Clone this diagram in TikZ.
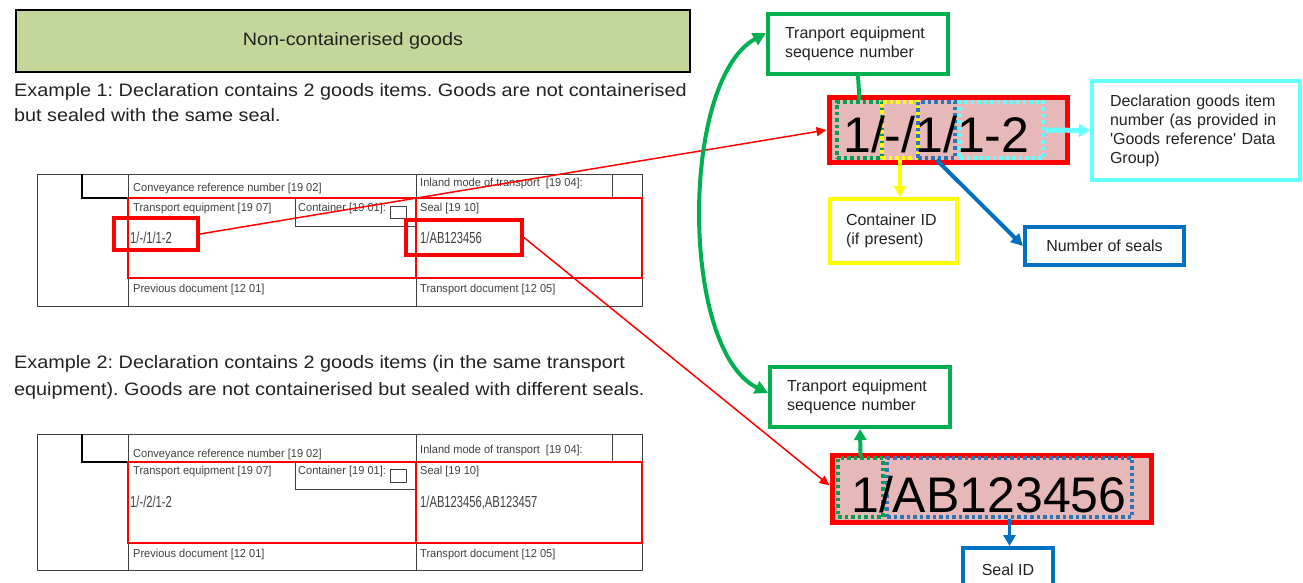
\documentclass[tikz,border=0pt]{standalone}
\usepackage{fontspec}
\setmainfont{Liberation Sans}
\newfontfamily\lblfont[FakeStretch=1.1]{Liberation Sans}
\newfontfamily\formfont[FakeStretch=0.96]{Liberation Sans}
\newfontfamily\valfont[FakeStretch=0.7]{Liberation Sans}
\usetikzlibrary{arrows.meta}
\definecolor{ogreen}{HTML}{00B050}
\definecolor{dgreen}{HTML}{00A050}
\definecolor{oblue}{HTML}{0070C0}
\definecolor{dblue}{HTML}{2E75B6}
\definecolor{ocyan}{HTML}{66FFFF}
\definecolor{oyellow}{HTML}{FFFF00}
\definecolor{pinkfill}{HTML}{E6B8B7}
\definecolor{titlefill}{HTML}{C4D79B}
\definecolor{formline}{HTML}{404040}
\definecolor{txt}{HTML}{222222}
\frenchspacing
\tikzset{
  lbl/.style={inner sep=0pt, text=txt, font=\lblfont\fontsize{18}{20}\selectfont},
  flbl/.style={inner sep=0pt, text=formline, font=\formfont\fontsize{11.5}{13}\selectfont},
  fval/.style={inner sep=0pt, text=formline, font=\valfont\fontsize{16}{18}\selectfont},
  fthin/.style={draw=formline, line width=0.8pt},
  fthick/.style={draw=black, line width=2.5pt},
  redthin/.style={draw=red, line width=2pt},
  redthick/.style={draw=red, line width=4pt, inner sep=0pt},
  callout/.style={fill=white, align=left, text=txt, font=\fontsize{16}{19}\selectfont},
  gbox/.style={callout, draw=ogreen, line width=4pt, inner xsep=17pt, text width=146pt, minimum height=60pt},
  bigbox/.style={draw=red, line width=5pt, fill=pinkfill, inner sep=0pt},
  bigtxt/.style={inner sep=0pt, font=\fontsize{50}{50}\selectfont},
  dotbox/.style={line width=3.5pt, dash pattern=on 3.5pt off 3pt, inner sep=0pt},
  redarrow/.style={draw=red, line width=1.5pt, -{Triangle[length=10pt,width=9pt]}},
}
\begin{document}
\begin{tikzpicture}[x=1pt,y=-1pt]
\useasboundingbox (0,0) rectangle (1303,583);

% ---------- left: title and texts ----------
\node[draw=black, line width=2pt, fill=titlefill, minimum width=674pt, minimum height=62pt,
      font=\lblfont\fontsize{18}{20}\selectfont, text=txt] (title) at (353,41) {Non-containerised goods};
\node[lbl, anchor=base west] (ex1a) at (14,97) {Example 1: Declaration contains 2 goods items. Goods are not containerised};
\node[lbl, anchor=base west] (ex1b) at (14,122) {but sealed with the same seal.};
\node[lbl, anchor=base west] (ex2a) at (14,368) {Example 2: Declaration contains 2 goods items (in the same transport};
\node[lbl, anchor=base west] (ex2b) at (14,395) {equipment). Goods are not containerised but sealed with different seals.};

% ---------- form 1 ----------
\draw[fthin] (37,174) rectangle (642,306);
\draw[fthin] (128,174) -- (128,306);
\draw[fthin] (416,174) -- (416,306);
\draw[fthin] (612,174) -- (612,198);
\draw[fthin] (295,198) -- (295,226) -- (416,226);
\draw[fthin] (390,206) rectangle (406,218);
\draw[fthick] (82,174) -- (82,198) -- (128,198);
\draw[redthin] (128,198) rectangle (642,278);
\draw[redthin] (416,198) -- (416,278);
\node[flbl, anchor=base west] (c1) at (133,191) {Conveyance reference number [19 02]};
\node[flbl, anchor=base west] (i1) at (420,186) {Inland mode of transport\ \ [19 04]:};
\node[flbl, anchor=base west] (te1) at (133,211) {Transport equipment [19 07]};
\node[flbl, anchor=base west] (co1) at (298,211) {Container [19 01]:};
\node[flbl, anchor=base west] (s1) at (420,211) {Seal [19 10]};
\node[fval, anchor=base west] (v1) at (130,243) {1/-/1/1-2};
\node[fval, anchor=base west] (w1) at (420,243) {1/AB123456};
\node[flbl, anchor=base west] (p1) at (133,292) {Previous document [12 01]};
\node[flbl, anchor=base west] (d1) at (420,292) {Transport document [12 05]};
\node[redthick, draw, minimum width=84pt, minimum height=32pt] (fv1) at (156,234) {};
\node[redthick, draw, minimum width=116pt, minimum height=35pt] (sv1) at (464,237.5) {};

% ---------- form 2 ----------
\draw[fthin] (37,434) rectangle (642,570);
\draw[fthin] (128,434) -- (128,570);
\draw[fthin] (416,434) -- (416,570);
\draw[fthin] (612,434) -- (612,462);
\draw[fthin] (295,462) -- (295,489) -- (416,489);
\draw[fthin] (390,469) rectangle (406,482);
\draw[fthick] (82,434) -- (82,462) -- (128,462);
\draw[redthin] (128,462) rectangle (642,543);
\draw[redthin] (416,462) -- (416,543);
\node[flbl, anchor=base west] (c2) at (133,457) {Conveyance reference number [19 02]};
\node[flbl, anchor=base west] (i2) at (420,453) {Inland mode of transport\ \ [19 04]:};
\node[flbl, anchor=base west] (te2) at (133,474) {Transport equipment [19 07]};
\node[flbl, anchor=base west] (co2) at (298,474) {Container [19 01]:};
\node[flbl, anchor=base west] (s2) at (420,474) {Seal [19 10]};
\node[fval, anchor=base west] (v2) at (130,507) {1/-/2/1-2};
\node[fval, anchor=base west] (w2) at (420,507) {1/AB123456,AB123457};
\node[flbl, anchor=base west] (p2) at (133,557) {Previous document [12 01]};
\node[flbl, anchor=base west] (d2) at (420,557) {Transport document [12 05]};

% ---------- right: example 1 breakdown ----------
\node[gbox] (g1) at (858,44) {Tranport equipment\\sequence number};
\node[bigbox, minimum width=238pt, minimum height=64pt] (rb1) at (948,130) {};
\node[dotbox, draw=dgreen, minimum width=45pt, minimum height=56pt] (gd1) at (859.5,130) {};
\node[dotbox, draw=oyellow, minimum width=36pt, minimum height=56pt] (yd1) at (900,130) {};
\node[dotbox, draw=dblue, minimum width=37pt, minimum height=56pt] (bd1) at (936.5,130) {};
\node[dotbox, draw=ocyan, minimum width=83pt, minimum height=56pt] (cd1) at (1001.5,130) {};
\node[bigtxt, anchor=base west] (t1) at (843,153) {1/-/1/1-2};
\node[callout, draw=ocyan, line width=4pt, inner xsep=18pt, text width=172pt, minimum height=99pt] (decl) at (1196,130.5)
  {Declaration goods item\\number (as provided in\\\textquotesingle Goods reference\textquotesingle\ Data\\Group)};
\node[callout, draw=oyellow, line width=4pt, inner xsep=16pt, text width=95pt, minimum height=64pt] (cid) at (893.5,231)
  {Container ID\\(if present)};
\node[callout, draw=oblue, line width=4pt, align=center, minimum width=159pt, minimum height=38pt] (nos) at (1104.5,246)
  {Number of seals};

\draw[ogreen, line width=4pt] (g1.south) -- (gd1.north);
\draw[ocyan, line width=5pt, -{Triangle[length=11pt,width=13pt]}] (cd1.east) -- (decl.west);
\draw[oyellow, line width=3.5pt, -{Triangle[length=11pt,width=12pt]}] (yd1.south) -- (yd1.south |- cid.north);
\draw[oblue, line width=4pt, -{Triangle[length=12pt,width=12pt]}] (bd1.south) -- (nos.west);

% ---------- right: example 2 breakdown ----------
\node[gbox] (g2) at (860,397) {Tranport equipment\\sequence number};
\node[bigbox, minimum width=319pt, minimum height=67pt] (rb2) at (991.5,488.5) {};
\node[dotbox, draw=dgreen, minimum width=45pt, minimum height=59pt] (gd2) at (860.5,487.5) {};
\node[dotbox, draw=dblue, minimum width=245pt, minimum height=59pt] (bd2) at (1009.5,487.5) {};
\node[bigtxt, anchor=base west] (t2) at (851,512) {1/AB123456};
\node[callout, draw=oblue, line width=4pt, align=center, minimum width=90pt, minimum height=44pt] (seal) at (1008,570)
  {Seal ID};

\draw[ogreen, line width=4pt, -{Triangle[length=11pt,width=12pt]}] (gd2.north) -- (g2.south);
\draw[oblue, line width=3.5pt, -{Triangle[length=11pt,width=12pt]}] (bd2.south) -- (bd2.south |- seal.north);

% ---------- connectors from forms ----------
\draw[redarrow] (fv1.east) -- (rb1.west);
\draw[redarrow] (sv1.east) -- ([yshift=3pt]rb2.west);
\draw[ogreen, line width=4pt, {Triangle[length=13pt,width=13pt]}-{Triangle[length=13pt,width=13pt]}]
  ([yshift=11pt]g1.west) .. controls (680,80) and (680,350) .. ([yshift=4pt]g2.west);
\end{tikzpicture}
\end{document}
